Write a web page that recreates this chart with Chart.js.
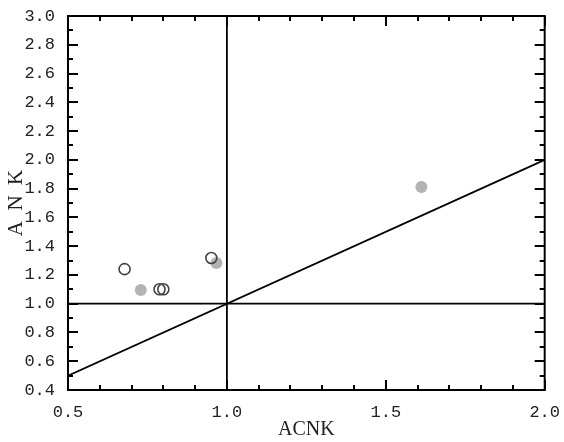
<!DOCTYPE html>
<html>
<head>
<meta charset="utf-8">
<script src="https://cdn.jsdelivr.net/npm/chart.js@4.4.0/dist/chart.umd.min.js"></script>
<style>
  html, body { margin: 0; padding: 0; background: #fff; }
  #wrap { width: 564px; height: 442px; }
</style>
</head>
<body>
<div id="wrap"><canvas id="chart" width="564" height="442"></canvas></div>
<script>
// open circles
const hollowX = [0.678, 0.788, 0.800, 0.951];
const hollowY = [1.24, 1.10, 1.10, 1.318];
// grey filled circles
const filledX = [0.729, 0.967, 1.612];
const filledY = [1.095, 1.283, 1.812];

// reference lines: ACNK = 1, ANK = 1, ANK = ACNK
const vLineX = [1.0, 1.0];
const vLineY = [0.4, 3.0];
const hLineX = [0.5, 2.0];
const hLineY = [1.0, 1.0];
const diagX = [0.5, 2.0];
const diagY = [0.5, 2.0];

const xMin = 0.5, xMax = 2.0, xStep = 0.5, xMinor = 0.1;
const yMin = 0.4, yMax = 3.0, yStep = 0.2, yMinor = 0.1;

const tickFont = { family: "Liberation Mono", size: 17 };

function pts(xs, ys) {
  return xs.map((x, i) => ({ x, y: ys[i] }));
}

function refLine(xs, ys) {
  return {
    type: "line",
    data: pts(xs, ys),
    borderColor: "#000",
    borderWidth: 1.8,
    pointRadius: 0,
    fill: false,
    order: 3
  };
}

// frame + inward ticks on all four sides
const frame = {
  id: "frame",
  afterDatasetsDraw(c) {
    const ctx = c.ctx, a = c.chartArea;
    const xs = c.scales.x, ys = c.scales.y;
    ctx.save();
    ctx.strokeStyle = "#000";
    ctx.lineWidth = 2;
    const nx = Math.round((xMax - xMin) / xMinor);
    for (let i = 0; i <= nx; i++) {
      const v = xMin + i * xMinor;
      const px = Math.round(xs.getPixelForValue(v));
      const len = i % Math.round(xStep / xMinor) === 0 ? 10 : 5;
      ctx.beginPath();
      ctx.moveTo(px, a.bottom); ctx.lineTo(px, a.bottom - len);
      ctx.moveTo(px, a.top); ctx.lineTo(px, a.top + len);
      ctx.stroke();
    }
    const ny = Math.round((yMax - yMin) / yMinor);
    for (let i = 0; i <= ny; i++) {
      const v = yMin + i * yMinor;
      const py = Math.round(ys.getPixelForValue(v));
      const len = i % Math.round(yStep / yMinor) === 0 ? 10 : 5;
      ctx.beginPath();
      ctx.moveTo(a.left, py); ctx.lineTo(a.left + len, py);
      ctx.moveTo(a.right, py); ctx.lineTo(a.right - len, py);
      ctx.stroke();
    }
    ctx.strokeRect(a.left, a.top, a.right - a.left, a.bottom - a.top);
    ctx.restore();
  }
};

new Chart(document.getElementById("chart"), {
  type: "scatter",
  data: {
    datasets: [
      {
        label: "open",
        data: pts(hollowX, hollowY),
        pointRadius: 5.5,
        pointBackgroundColor: "rgba(255,255,255,0)",
        pointBorderColor: "#444",
        pointBorderWidth: 1.6,
        order: 1
      },
      {
        label: "filled",
        data: pts(filledX, filledY),
        pointRadius: 6,
        pointBackgroundColor: "#b3b3b3",
        pointBorderColor: "#b3b3b3",
        pointBorderWidth: 0,
        order: 2
      },
      refLine(vLineX, vLineY),
      refLine(hLineX, hLineY),
      refLine(diagX, diagY)
    ]
  },
  options: {
    responsive: false,
    animation: false,
    layout: { padding: { top: 16, right: 17, left: 0, bottom: 0 } },
    plugins: { legend: { display: false }, tooltip: { enabled: false } },
    scales: {
      x: {
        type: "linear",
        min: xMin, max: xMax,
        afterFit(s) { s.height = 52; },
        grid: { display: false },
        border: { display: false },
        ticks: {
          stepSize: xStep,
          padding: 4,
          color: "#222",
          font: tickFont,
          maxRotation: 0,
          callback: v => Number(v).toFixed(1)
        },
        title: {
          display: true, text: "ACNK", color: "#222",
          font: { family: "Liberation Serif", size: 20 }, padding: 0
        }
      },
      y: {
        type: "linear",
        min: yMin, max: yMax,
        afterFit(s) { s.width = 68; },
        grid: { display: false },
        border: { display: false },
        ticks: {
          stepSize: yStep,
          padding: 5,
          color: "#222",
          font: tickFont,
          callback: v => Number(v).toFixed(1)
        },
        title: {
          display: true, text: "A  N  K", color: "#222",
          font: { family: "Liberation Serif", size: 21 }, padding: { top: 4 }
        }
      }
    }
  },
  plugins: [frame]
});
</script>
</body>
</html>
